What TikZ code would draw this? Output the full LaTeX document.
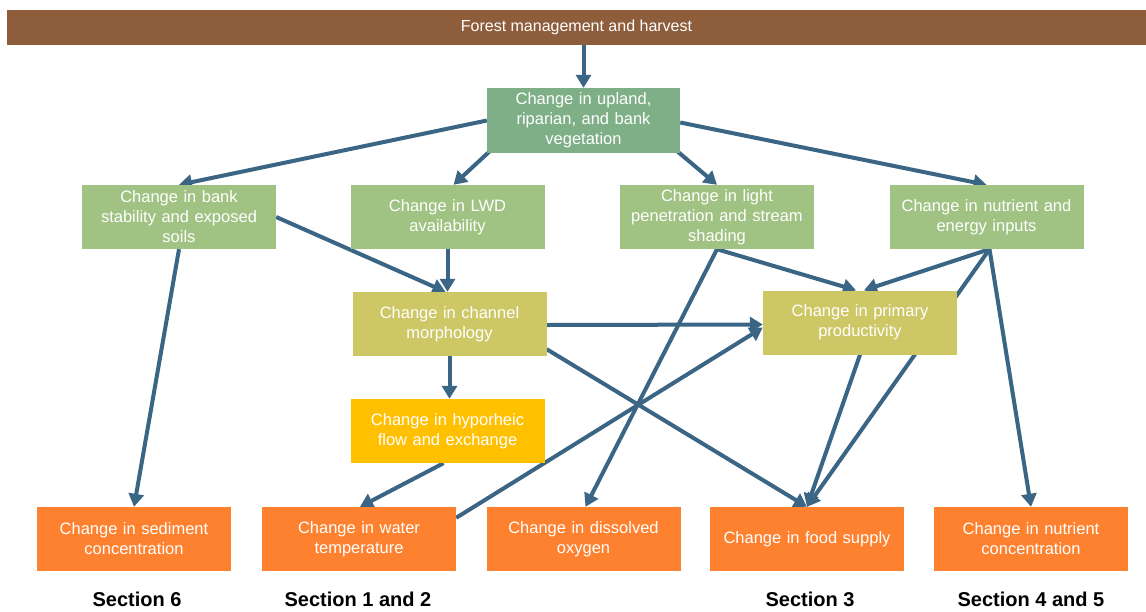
\documentclass[tikz,border=0pt]{standalone}
\usepackage{fontspec}
\setmainfont{Liberation Sans}
\usetikzlibrary{arrows.meta,backgrounds}
\definecolor{cbrown}{HTML}{8E5D3B}
\definecolor{cdkgreen}{HTML}{7EAF87}
\definecolor{cltgreen}{HTML}{A0C282}
\definecolor{colive}{HTML}{CEC766}
\definecolor{cyellow}{HTML}{FFC000}
\definecolor{corange}{HTML}{FD812F}
\definecolor{cline}{HTML}{3A6584}
\tikzset{
  box/.style={draw=none, minimum width=194pt, minimum height=64pt, inner sep=0pt,
    text width=188pt, align=center, text=white,
    font=\fontsize{16.5}{20}\selectfont},
  upbox/.style={box, fill=cdkgreen, minimum width=193pt, minimum height=65pt},
  gbox/.style={box, fill=cltgreen},
  obox/.style={box, fill=colive},
  ybox/.style={box, fill=cyellow},
  rbox/.style={box, fill=corange},
  seclabel/.style={font=\fontsize{20}{24}\selectfont\bfseries, text=black, inner sep=0pt},
  link/.style={draw=cline, line width=4pt, -{Triangle[length=13pt,width=15pt]}}
}
\begin{document}
\begin{tikzpicture}[x=1pt,y=-1pt]
\useasboundingbox (0,0) rectangle (1146,611);
\node[fill=cbrown, minimum width=1139pt, minimum height=35pt, inner sep=0pt, text=white,
  font=\fontsize{16}{20}\selectfont] (bar) at (576.5,27.5) {Forest management and harvest};
\node[upbox] (up) at (583.5,120.5) {Change in upland,\\riparian, and bank\\vegetation};
\node[gbox] (bank) at (179,217) {Change in bank\\stability and exposed\\soils};
\node[gbox] (lwd) at (447.5,217) {Change in LWD\\availability};
\node[gbox] (light) at (717,217) {Change in light\\penetration and stream\\shading};
\node[gbox] (nut) at (986.5,217) {Change in nutrient and\\energy inputs};
\node[obox] (chan) at (449.5,324) {Change in channel\\morphology};
\node[obox] (prim) at (860,322.5) {Change in primary\\productivity};
\node[ybox] (hyp) at (447.5,431) {Change in hyporheic\\flow and exchange};
\node[rbox] (sed) at (134,539) {Change in sediment\\concentration};
\node[rbox] (water) at (359,539) {Change in water\\temperature};
\node[rbox] (do) at (583.5,539) {Change in dissolved\\oxygen};
\node[rbox] (food) at (807,539) {Change in food supply};
\node[rbox] (nconc) at (1031,539) {Change in nutrient\\concentration};
\node[seclabel] (s6) at (137,599) {Section 6};
\node[seclabel] (s12) at (358,599) {Section 1 and 2};
\node[seclabel] (s3) at (810,599) {Section 3};
\node[seclabel] (s45) at (1031,599) {Section 4 and 5};
\begin{pgfonlayer}{background}
\fill[white] (0,0) rectangle (1146,611);
\path[link] (up.north |- bar.south) -- (up.north);
\path[link] (up.west) -- (bank.north);
\path[link] ([xshift=3pt,yshift=2pt]up.south west) -- ([xshift=6pt]lwd.north);
\path[link] ([xshift=-3pt,yshift=2pt]up.south east) -- (light.north);
\path[link] ([yshift=-2pt]up.east) -- (nut.north);
\path[link] (bank.east) -- ([xshift=-4pt]chan.north);
\path[link] (lwd.south) -- (lwd.south |- chan.north);
\path[link] (chan.south) -- (chan.south |- hyp.north);
\path[link] ([yshift=-1pt]chan.east) -- ([yshift=-2pt]prim.west);
\path[link] (light.south) -- ([xshift=-4pt]prim.north);
\path[link] ([xshift=3pt]nut.south) -- ([xshift=4pt]prim.north);
\path[link] ([xshift=3pt]nut.south) -- (food.north);
\path[link] ([xshift=3pt]nut.south) -- (nconc.north);
\path[link] (prim.south) -- (food.north);
\path[link] ([yshift=7pt]chan.south east) -- (food.north);
\path[link] (light.south) -- ([xshift=2pt]do.north);
\path[link] ([yshift=-11pt]water.north east) -- ([yshift=-5pt]prim.west);
\path[link] ([xshift=-4pt]hyp.south) -- ([xshift=1pt]water.north);
\path[link] (bank.south) -- (sed.north);
\end{pgfonlayer}
\end{tikzpicture}
\end{document}
